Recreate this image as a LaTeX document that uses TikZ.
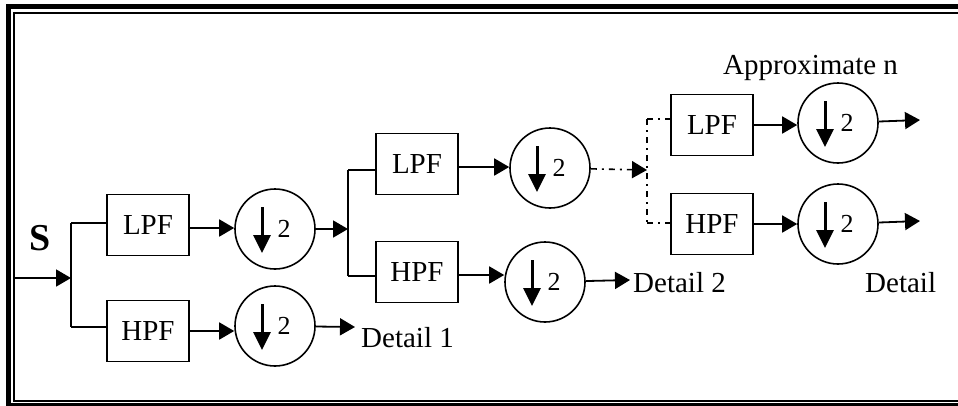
\documentclass[tikz,border=0pt]{standalone}
\usepackage{fontspec}
\setmainfont{Liberation Serif}
\usetikzlibrary{arrows.meta,calc}
\begin{document}
\begin{tikzpicture}[x=1pt,y=-1pt,
  box/.style={draw, line width=1.6pt, minimum width=82pt, minimum height=61pt, inner sep=0pt, font=\fontsize{29}{31}\selectfont},
  dec/.style={draw, circle, line width=1.6pt, minimum size=80pt, inner sep=0pt},
  wire/.style={line width=1.8pt},
  arr/.style={wire, -{Triangle[length=15pt,width=17pt]}},
  dd/.style={line width=1.6pt, dash pattern=on 6pt off 5pt on 2pt off 5pt},
  lbl/.style={font=\fontsize{29}{31}\selectfont, inner sep=0pt, anchor=west},
  two/.style={font=\fontsize{26}{28}\selectfont, inner sep=0pt},
  darr/.style={line width=3pt, -{Triangle[length=18pt,width=17pt]}},
]
\useasboundingbox (0,0) rectangle (958,405);
\clip (0,0) rectangle (958,405);
% frame
\draw[line width=5pt] (8.5,6.5) rectangle (990,405.5);
\draw[line width=2pt] (14,13) rectangle (990,401);

% filters
\node[box] (lpf1) at (148,225) {LPF};
\node[box] (hpf1) at (148,331) {HPF};
\node[box] (lpf2) at (417,164) {LPF};
\node[box] (hpf2) at (417,272) {HPF};
\node[box] (lpf3) at (712,125) {LPF};
\node[box] (hpf3) at (712,224) {HPF};

% decimators
\node[dec] (c1) at (275,229) {};
\node[dec] (c2) at (275,326) {};
\node[dec] (c3) at (550,168) {};
\node[dec] (c4) at (545,282) {};
\node[dec] (c5) at (838,123) {};
\node[dec] (c6) at (838,224) {};
\foreach \c in {c1,c2,c3,c4,c5,c6}{
  \draw[darr] ($(\c)+(-13,-22)$) -- ($(\c)+(-13,24)$);
  \node[two] (t\c) at ($(\c)+(9,0)$) {2};
}

% labels
\node[font=\fontsize{38}{40}\selectfont\bfseries, inner sep=0pt] (s) at (40,238) {S};
\node[lbl] (d1) at (361,338) {Detail 1};
\node[lbl] (d2) at (633,283) {Detail 2};
\node[lbl] (dn) at (865,283) {Detail};
\node[lbl] (an) at (723,68) {Approximate n};

% coordinates
\coordinate (in) at (14,278);
\coordinate (j1) at (71,278);
\coordinate (j1t) at (71,223);
\coordinate (j1b) at (71,327);
\coordinate (j2) at (348,229);
\coordinate (j2t) at (348,170);
\coordinate (j2b) at (348,276);
\coordinate (j3) at (647,170);
\coordinate (j3t) at (647,119);
\coordinate (j3b) at (647,223);
\coordinate (o1) at (355,327);
\coordinate (o2) at (630,280);
\coordinate (o5) at (920,120);
\coordinate (o6) at (920,221);
\coordinate (a1) at ($(lpf1.east)+(0,3)$);
\coordinate (a2) at (hpf1.east);
\coordinate (a3) at ($(lpf2.east)+(0,3)$);
\coordinate (a4) at ($(hpf2.east)+(0,3)$);
\coordinate (a5) at (lpf3.east);
\coordinate (a6) at (hpf3.east);

% stage 1
\draw[arr] (in) -- (j1);
\draw[wire] (j1t) -- (j1b);
\draw[wire] (j1t) -- (j1t -| lpf1.west);
\draw[wire] (j1b) -- (j1b -| hpf1.west);
\draw[arr] (a1) -- (a1 -| c1.west);
\draw[arr] (a2) -- (a2 -| c2.west);
\draw[arr] (c2) -- (o1);
\draw[arr] (c1) -- (j2);

% stage 2
\draw[wire] (j2t) -- (j2b);
\draw[wire] (j2t) -- (j2t -| lpf2.west);
\draw[wire] (j2b) -- (j2b -| hpf2.west);
\draw[arr] (a3) -- (a3 -| c3.west);
\draw[arr] (a4) -- (a4 -| c4.west);
\draw[arr] (c4) -- (o2);
\draw[dd, -{Triangle[length=15pt,width=17pt]}] (c3) -- (j3);

% stage n
\draw[dd] (j3t) -- (j3b);
\draw[dd] (j3t) -- (j3t -| lpf3.west);
\draw[dd] (j3b) -- (j3b -| hpf3.west);
\draw[arr] (a5) -- (a5 -| c5.west);
\draw[arr] (a6) -- (a6 -| c6.west);
\draw[arr] (c5) -- (o5);
\draw[arr] (c6) -- (o6);
\end{tikzpicture}
\end{document}
